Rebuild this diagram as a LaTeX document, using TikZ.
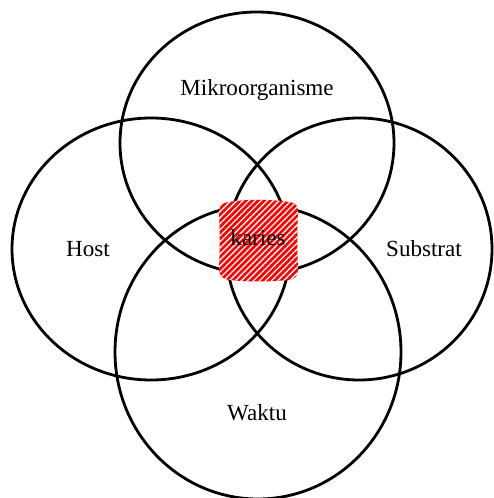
\documentclass[tikz,border=0pt]{standalone}
\usepackage{fontspec}
\setmainfont{Liberation Serif}
\usetikzlibrary{patterns.meta}
\begin{document}
\begin{tikzpicture}[x=0.75pt,y=0.75pt,yscale=-1,xscale=1]
\path[use as bounding box] (0,0) rectangle (493,498);

%Shape: Ellipse [Mikroorganisme]
\draw [line width=2.1pt] (257,143) ellipse [x radius=137, y radius=131];
%Shape: Ellipse [Host]
\draw [line width=2.1pt] (151,249) ellipse [x radius=139, y radius=131];
%Shape: Ellipse [Substrat]
\draw [line width=2.1pt] (359,249) ellipse [x radius=133, y radius=131];
%Shape: Ellipse [Waktu]
\draw [line width=2.1pt] (258,352) ellipse [x radius=143, y radius=147];

%Shape: Hatched region [karies]
\fill [red] (229,202) .. controls (248,199) and (268,199) .. (289,202) .. controls (297,203) and (298,206) .. (298,214) .. controls (297,232) and (297,250) .. (298,268) .. controls (298,276) and (296,279) .. (288,280) .. controls (268,282) and (248,282) .. (230,280) .. controls (222,279) and (219,276) .. (219,268) .. controls (220,250) and (220,232) .. (219,214) .. controls (219,206) and (221,203) .. (229,202) -- cycle ;
\fill [pattern={Lines[angle=45,distance=3.2pt,line width=1pt]}, pattern color=white] (229,202) .. controls (248,199) and (268,199) .. (289,202) .. controls (297,203) and (298,206) .. (298,214) .. controls (297,232) and (297,250) .. (298,268) .. controls (298,276) and (296,279) .. (288,280) .. controls (268,282) and (248,282) .. (230,280) .. controls (222,279) and (219,276) .. (219,268) .. controls (220,250) and (220,232) .. (219,214) .. controls (219,206) and (221,203) .. (229,202) -- cycle ;

% Text Node
\node (mikro) at (257,90) [font=\fontsize{17.3}{20}\selectfont] {Mikroorganisme};
% Text Node
\node (host) at (88,249) [font=\fontsize{17.3}{20}\selectfont] {Host};
% Text Node
\node (substrat) at (424,249) [font=\fontsize{17.3}{20}\selectfont] {Substrat};
% Text Node
\node (waktu) at (257,413) [font=\fontsize{17.3}{20}\selectfont] {Waktu};
% Text Node
\node (karies) at (258,238) [font=\fontsize{17.3}{20}\selectfont] {karies};

\end{tikzpicture}
\end{document}
